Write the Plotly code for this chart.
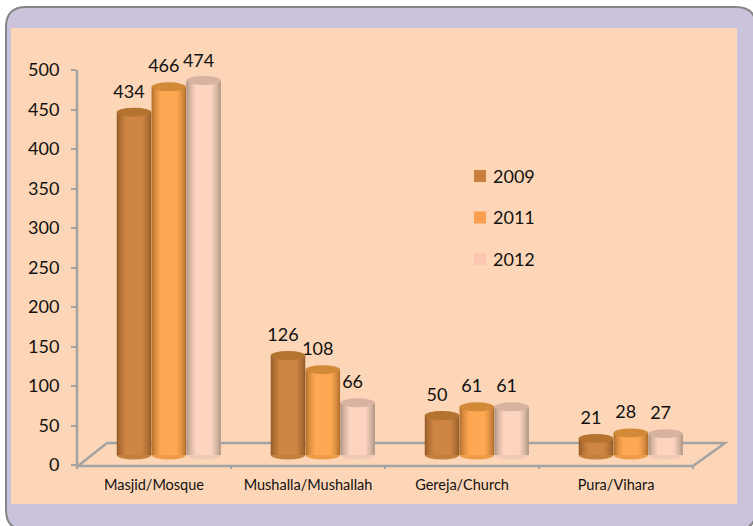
import plotly.graph_objects as go

categories = ["Masjid/Mosque", "Mushalla/Mushallah", "Gereja/Church", "Pura/Vihara"]
years = ["2009", "2011", "2012"]
v2009 = [434, 126, 50, 21]
v2011 = [466, 108, 61, 28]
v2012 = [474, 66, 61, 27]
series = [v2009, v2011, v2012]
y_ticks = [0, 50, 100, 150, 200, 250, 300, 350, 400, 450, 500]

W, H = 753, 526
X0, X1 = 77, 725
Y0, Y500 = 465, 70
YMAX = 540
CAT = 154.0
PXU = (Y0 - Y500) / 500
BASE = 10 / PXU
BW = 34.5 / CAT
OFF0 = 57 / CAT
STEP = 34.8 / CAT
ELL = 4.5 / PXU
LAYERS = 16
edge = [(150, 92, 40), (178, 112, 45), (172, 148, 132)]
centre = [(206, 134, 68), (255, 168, 84), (253, 212, 192)]
legend_cols = ["#c97f3d", "#fb9f4f", "#fcc6af"]
tops = ["#b4732f", "#d28a38", "#d8b3a2"]
bottoms = ["#c4813c", "#ee9c47", "#efcab6"]
label_off = -5 / CAT
legend_y = [176, 217.5, 259]


def px(x):
    return x / W


def py(y):
    return 1 - y / H


def mix(a, b, t):
    return "rgb(%d,%d,%d)" % tuple(round(p + (q - p) * t) for p, q in zip(a, b))


shapes = [
    dict(type="path", xref="paper", yref="paper",
         path=f"M {px(26)} {py(7)} H {px(736)} Q {px(756)} {py(7)} {px(756)} {py(27)} V {py(510)} Q {px(756)} {py(530)} {px(736)} {py(530)} H {px(26)} Q {px(6)} {py(530)} {px(6)} {py(510)} V {py(27)} Q {px(6)} {py(7)} {px(26)} {py(7)} Z",
         fillcolor="#cbc3dc", line=dict(color="#858585", width=2), layer="below"),
    dict(type="rect", xref="paper", yref="paper", x0=px(11), x1=px(737), y0=py(28), y1=py(504),
         fillcolor="#fdd6b7", line=dict(width=0), layer="below"),
    dict(type="path", xref="paper", yref="paper",
         path=f"M {px(78)} {py(466)} L {px(107)} {py(443)} H {px(725)} L {px(693)} {py(466)} Z",
         fillcolor="rgba(0,0,0,0)", line=dict(color="#a3a3a3", width=2.5), layer="below"),
    dict(type="line", xref="paper", yref="y", x0=px(X0), x1=px(X0), y0=0, y1=y_ticks[-1],
         line=dict(color="#a3a3a3", width=2.5), layer="below"),
]
annotations = []

fig = go.Figure()
for s, vals in enumerate(series):
    xs = [i + OFF0 + s * STEP for i in range(len(categories))]
    for x in xs:
        shapes.append(dict(type="circle", xref="x", yref="y", layer="below",
                           x0=x - BW / 2, x1=x + BW / 2, y0=BASE - ELL, y1=BASE + ELL,
                           fillcolor=bottoms[s], line=dict(width=0)))
    for k in range(LAYERS):
        t = k / (LAYERS - 1)
        fig.add_trace(go.Bar(x=xs, y=vals, base=BASE, width=BW * (1 - t * 0.9), name=years[s],
                             marker=dict(color=mix(edge[s], centre[s], min(1, (t * 1.7) ** 0.7)),
                                         line=dict(width=0)),
                             showlegend=False, hoverinfo="skip"))
    for x, v in zip(xs, vals):
        shapes.append(dict(type="circle", xref="x", yref="y", layer="above",
                           x0=x - BW / 2, x1=x + BW / 2, y0=BASE + v - ELL, y1=BASE + v + ELL,
                           fillcolor=tops[s], line=dict(width=0)))
    fig.add_trace(go.Scatter(x=[x + label_off for x in xs],
                             y=[min(BASE + v + 19 / PXU, 509) for v in vals],
                             mode="text", text=[str(v) for v in vals],
                             textfont=dict(family="Lato", size=18, color="#111111"),
                             textposition="middle center", showlegend=False,
                             cliponaxis=False, hoverinfo="skip"))
    shapes.append(dict(type="rect", xref="paper", yref="paper", layer="above",
                       x0=px(474), x1=px(486), y0=py(legend_y[s] - 6), y1=py(legend_y[s] + 6),
                       fillcolor=legend_cols[s], line=dict(width=0)))
    annotations.append(dict(xref="paper", yref="paper", x=px(491), y=py(legend_y[s]),
                            xanchor="left", yanchor="middle", showarrow=False, text=years[s],
                            font=dict(family="Lato", size=18, color="#111111")))

fig.update_layout(
    width=W, height=H, autosize=False, barmode="overlay",
    margin=dict(l=0, r=0, t=0, b=0, autoexpand=False),
    paper_bgcolor="white", plot_bgcolor="rgba(0,0,0,0)",
    font=dict(family="Lato", color="#111111"),
    shapes=shapes, annotations=annotations, showlegend=False,
    xaxis=dict(domain=[px(X0), px(X1)], range=[0, (X1 - X0) / CAT],
               tickmode="array", tickvals=[i + 0.5 for i in range(4)], ticktext=categories,
               tickfont=dict(family="Lato", size=14.5, color="#111111"), ticks="", ticklen=0,
               ticklabelstandoff=9,
               minor=dict(tickmode="array", tickvals=[0, 1, 2, 3, 4], ticks="outside", ticklen=3,
                          tickwidth=1.5, tickcolor="#a3a3a3"),
               showgrid=False, zeroline=False, showline=False, automargin=False),
    yaxis=dict(domain=[py(Y0), py(Y0 - YMAX * PXU)], range=[0, YMAX], tickmode="array", tickvals=y_ticks,
               tickfont=dict(family="Lato", size=18, color="#111111"),
               ticks="outside", ticklen=5, tickwidth=2, tickcolor="#a3a3a3",
               ticklabelstandoff=8,
               showgrid=False, zeroline=False, showline=False,
               automargin=False),
)
fig.write_html("out.html", config={"displayModeBar": False},
               post_script="document.body.style.margin='0';document.body.style.overflow='hidden';")
